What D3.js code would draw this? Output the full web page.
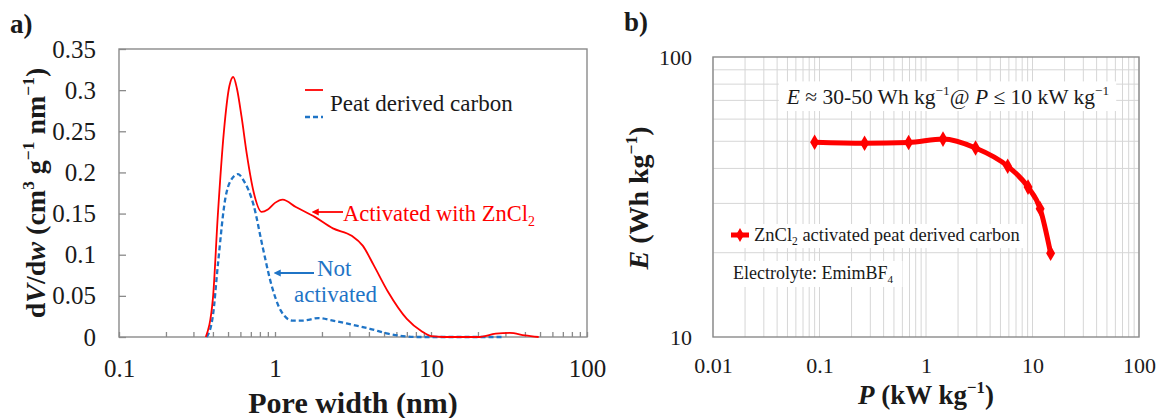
<!DOCTYPE html>
<html>
<head>
<meta charset="utf-8">
<script src="https://cdn.jsdelivr.net/npm/d3@7"></script>
<style>
  body { margin: 0; background: #fff; }
  svg { display: block; }
  svg text { font-family: 'Liberation Serif', 'Times New Roman', Tinos, 'DejaVu Serif', serif !important; }
</style>
</head>
<body>
<svg id="viz"></svg>
<script>
// ---- panel a: pore size distribution ----
const poreRed = [0.36, 0.40, 0.43, 0.47, 0.51, 0.54, 0.57, 0.61, 0.66, 0.73, 0.82, 0.90, 1.0, 1.12, 1.36, 1.8, 2.35, 3.1, 3.65, 4.3, 5.3, 7.0, 8.7, 10, 12, 20, 26, 32, 40, 49];
const dvRed   = [0, 0.047, 0.148, 0.249, 0.305, 0.316, 0.302, 0.268, 0.222, 0.176, 0.152, 0.155, 0.163, 0.167, 0.158, 0.146, 0.132, 0.123, 0.111, 0.087, 0.055, 0.022, 0.007, 0.001, 0, 0, 0.004, 0.005, 0.002, 0];
const poreBlue = [0.365, 0.40, 0.43, 0.48, 0.52, 0.58, 0.63, 0.73, 0.83, 0.95, 1.09, 1.29, 1.52, 1.9, 2.35, 3.1, 4.05, 5.3, 6.6, 8, 29];
const dvBlue   = [0, 0.026, 0.087, 0.168, 0.19, 0.198, 0.19, 0.16, 0.111, 0.063, 0.032, 0.02, 0.02, 0.023, 0.02, 0.015, 0.01, 0.004, 0.001, 0, 0];
const yTicksA = [0, 0.05, 0.1, 0.15, 0.2, 0.25, 0.3, 0.35];
const xMajorA = [0.1, 1, 10, 100];

// ---- panel b: Ragone plot ----
const powerB  = [0.09, 0.265, 0.687, 1.445, 2.92, 5.85, 9.08, 11.8, 14.8];
const energyB = [49.6, 49.2, 49.5, 50.9, 47.3, 40.7, 34.3, 28.7, 19.9];
const xMajorB = [0.01, 0.1, 1, 10, 100];
const yMajorB = [10, 100];

const red = "#ff0000", blue = "#1f74c6", axisGrey = "#8a8a8a", gridGrey = "#d6d6d6", ink = "#1a1a1a";
const serif = "'Liberation Serif', 'Times New Roman', Tinos, 'DejaVu Serif', serif";

const svg = d3.select("#viz").attr("width", 1160).attr("height", 418)
  .attr("font-family", serif);

// write text with italic / super / subscript pieces
function rich(sel, parts) {
  const fs = parseFloat(sel.attr("font-size"));
  let shift = 0;
  parts.forEach(p => {
    const ts = sel.append("tspan").text(p.t);
    let target = p.sup ? -0.4 * fs : p.sub ? 0.22 * fs : 0;
    if (target !== shift) { ts.attr("dy", target - shift); shift = target; }
    if (p.sup || p.sub) ts.attr("font-size", fs * 0.62);
    if (p.i) ts.attr("font-style", "italic");
  });
  return sel;
}

function minorsOf(domain) {
  const out = [];
  for (let d = domain[0]; d < domain[1] * 0.999; d *= 10)
    for (let k = 2; k <= 9; k++) out.push(+(k * d).toPrecision(3));
  return out;
}

// ================= panel a =================
const xA = d3.scaleLog().domain([0.1, 100]).range([119, 587]);
const yA = d3.scaleLinear().domain([0, 0.35]).range([337, 49]);

const gA = svg.append("g");

gA.append("rect")
  .attr("x", xA.range()[0]).attr("y", yA.range()[1])
  .attr("width", xA.range()[1] - xA.range()[0])
  .attr("height", yA.range()[0] - yA.range()[1])
  .attr("fill", "none").attr("stroke", axisGrey).attr("stroke-width", 1.4);

const axLeftA = gA.append("g").attr("transform", `translate(${xA.range()[0]},0)`)
  .call(d3.axisLeft(yA).tickValues(yTicksA).tickSize(-7).tickPadding(23)
    .tickFormat(d => d === 0 ? "0" : String(+d.toFixed(2))));
const axBotA = gA.append("g").attr("transform", `translate(0,${yA.range()[0]})`)
  .call(d3.axisBottom(xA).tickValues(xMajorA).tickSize(-5).tickPadding(22)
    .tickFormat(d => String(d)));
const axMinA = gA.append("g").attr("transform", `translate(0,${yA.range()[0]})`)
  .call(d3.axisBottom(xA).tickValues(minorsOf([0.1, 100])).tickSize(-5).tickFormat(""));
[axLeftA, axBotA, axMinA].forEach(a => {
  a.attr("font-family", serif);
  a.select(".domain").remove();
  a.selectAll("line").attr("stroke", axisGrey).attr("stroke-width", 1.3);
  a.selectAll("text").attr("font-size", 25).attr("fill", ink);
});

const lineA = d3.line().x(d => xA(d[0])).y(d => yA(d[1])).curve(d3.curveMonotoneX);

gA.append("path").datum(d3.zip(poreBlue, dvBlue))
  .attr("d", lineA).attr("fill", "none").attr("stroke", blue)
  .attr("stroke-width", 2.3).attr("stroke-dasharray", "5,3");
gA.append("path").datum(d3.zip(poreRed, dvRed))
  .attr("d", lineA).attr("fill", "none").attr("stroke", red).attr("stroke-width", 1.8);

// legend
gA.append("line").attr("x1", 305).attr("x2", 323).attr("y1", 90).attr("y2", 90)
  .attr("stroke", red).attr("stroke-width", 1.8);
gA.append("line").attr("x1", 305).attr("x2", 323).attr("y1", 117).attr("y2", 117)
  .attr("stroke", blue).attr("stroke-width", 2.3).attr("stroke-dasharray", "5,3");
gA.append("text").attr("x", 330).attr("y", 111).attr("font-size", 23).attr("fill", ink)
  .text("Peat derived carbon");

// arrows
const defs = svg.append("defs");
[["headRed", red], ["headBlue", blue]].forEach(([id, c]) => {
  defs.append("marker").attr("id", id).attr("viewBox", "0 0 10 10")
    .attr("refX", 1).attr("refY", 5).attr("markerWidth", 4).attr("markerHeight", 4)
    .attr("orient", "auto-start-reverse")
    .append("path").attr("d", "M0,0L10,5L0,10z").attr("fill", c);
});
gA.append("line").attr("x1", 343).attr("x2", 318).attr("y1", 212).attr("y2", 212)
  .attr("stroke", red).attr("stroke-width", 1.8).attr("marker-end", "url(#headRed)");
rich(gA.append("text").attr("x", 343).attr("y", 221).attr("font-size", 22.5).attr("fill", red),
  [{ t: "Activated with ZnCl" }, { t: "2", sub: true }]);

gA.append("line").attr("x1", 314).attr("x2", 280).attr("y1", 273).attr("y2", 273)
  .attr("stroke", blue).attr("stroke-width", 1.8).attr("marker-end", "url(#headBlue)");
gA.append("text").attr("x", 317).attr("y", 276).attr("font-size", 23).attr("fill", blue).text("Not");
gA.append("text").attr("x", 294).attr("y", 302).attr("font-size", 23).attr("fill", blue).text("activated");

// titles
gA.append("text").attr("x", 10).attr("y", 33).attr("font-size", 27).attr("font-weight", "bold")
  .attr("fill", ink).text("a)");
gA.append("text").attr("x", 353).attr("y", 413).attr("text-anchor", "middle")
  .attr("font-size", 30).attr("font-weight", "bold").attr("fill", ink).text("Pore width (nm)");
rich(gA.append("text").attr("transform", "translate(45,193) rotate(-90)")
  .attr("text-anchor", "middle").attr("font-size", 28).attr("font-weight", "bold").attr("fill", ink),
  [{ t: "d" }, { t: "V", i: true }, { t: "/d" }, { t: "w", i: true }, { t: " (cm" }, { t: "3", sup: true },
   { t: " g" }, { t: "\u22121", sup: true }, { t: " nm" }, { t: "\u22121", sup: true }, { t: ")" }]);

// ================= panel b =================
const xB = d3.scaleLog().domain([0.01, 100]).range([713, 1139]);
const yB = d3.scaleLog().domain([10, 100]).range([337, 57]);

const gB = svg.append("g");

// grid
gB.append("g").selectAll("line").data(minorsOf([0.01, 100]).concat(xMajorB)).join("line")
  .attr("x1", d => xB(d)).attr("x2", d => xB(d))
  .attr("y1", yB.range()[0]).attr("y2", yB.range()[1])
  .attr("stroke", gridGrey).attr("stroke-width", 1);
gB.append("g").selectAll("line").data(minorsOf([10, 100])).join("line")
  .attr("x1", xB.range()[0]).attr("x2", xB.range()[1])
  .attr("y1", d => yB(d)).attr("y2", d => yB(d))
  .attr("stroke", gridGrey).attr("stroke-width", 1);

gB.append("rect")
  .attr("x", xB.range()[0]).attr("y", yB.range()[1])
  .attr("width", xB.range()[1] - xB.range()[0])
  .attr("height", yB.range()[0] - yB.range()[1])
  .attr("fill", "none").attr("stroke", axisGrey).attr("stroke-width", 1.4);

const axLeftB = gB.append("g").attr("transform", `translate(${xB.range()[0]},0)`)
  .call(d3.axisLeft(yB).tickValues(yMajorB).tickSize(0).tickPadding(21).tickFormat(d => String(d)));
const axBotB = gB.append("g").attr("transform", `translate(0,${yB.range()[0]})`)
  .call(d3.axisBottom(xB).tickValues(xMajorB).tickSize(0).tickPadding(20).tickFormat(d => String(d)));
[axLeftB, axBotB].forEach(a => {
  a.attr("font-family", serif);
  a.select(".domain").remove();
  a.selectAll("text").attr("font-size", 22).attr("fill", ink);
});

// text boxes with white backing
function boxedText(g, padX, padY) {
  const bb = g.node().getBBox();
  g.insert("rect", ":first-child")
    .attr("x", bb.x - padX).attr("y", bb.y - padY)
    .attr("width", bb.width + 2 * padX).attr("height", bb.height + 2 * padY)
    .attr("fill", "#fff");
}

const noteB = gB.append("g");
rich(noteB.append("text").attr("x", 948).attr("y", 104).attr("text-anchor", "middle")
  .attr("font-size", 21.5).attr("fill", ink),
  [{ t: "E", i: true }, { t: " \u2248 30-50 Wh kg" }, { t: "\u22121", sup: true }, { t: "@ " },
   { t: "P", i: true }, { t: " \u2264 10 kW kg" }, { t: "\u22121", sup: true }]);
boxedText(noteB, 7, 2);

const legB = gB.append("g");
rich(legB.append("text").attr("x", 754).attr("y", 241).attr("font-size", 18.5).attr("fill", ink),
  [{ t: "ZnCl" }, { t: "2", sub: true }, { t: " activated peat derived carbon" }]);
legB.append("line").attr("x1", 731).attr("x2", 749).attr("y1", 235).attr("y2", 235)
  .attr("stroke", red).attr("stroke-width", 5);
legB.append("path").attr("d", d3.symbol(d3.symbolDiamond, 55)())
  .attr("transform", "translate(740,235)").attr("fill", red);
boxedText(legB, 5, 1);

const elecB = gB.append("g");
rich(elecB.append("text").attr("x", 733).attr("y", 279).attr("font-size", 18).attr("fill", ink),
  [{ t: "Electrolyte: EmimBF" }, { t: "4", sub: true }]);
boxedText(elecB, 9, 2);

const lineB = d3.line().x(d => xB(d[0])).y(d => yB(d[1])).curve(d3.curveMonotoneX);
const ptsB = d3.zip(powerB, energyB);
gB.append("path").datum(ptsB).attr("d", lineB).attr("fill", "none")
  .attr("stroke", red).attr("stroke-width", 5).attr("stroke-linejoin", "round");
gB.append("g").selectAll("path").data(ptsB).join("path")
  .attr("d", d3.symbol(d3.symbolDiamond, 70)())
  .attr("transform", d => `translate(${xB(d[0])},${yB(d[1])})`)
  .attr("fill", red);

// titles
gB.append("text").attr("x", 624).attr("y", 31).attr("font-size", 27).attr("font-weight", "bold")
  .attr("fill", ink).text("b)");
rich(gB.append("text").attr("x", 926).attr("y", 404).attr("text-anchor", "middle")
  .attr("font-size", 27).attr("font-weight", "bold").attr("fill", ink),
  [{ t: "P", i: true }, { t: " (kW kg" }, { t: "\u22121", sup: true }, { t: ")" }]);
rich(gB.append("text").attr("transform", "translate(648,198) rotate(-90)")
  .attr("text-anchor", "middle").attr("font-size", 28).attr("font-weight", "bold").attr("fill", ink),
  [{ t: "E", i: true }, { t: " (Wh kg" }, { t: "\u22121", sup: true }, { t: ")" }]);
</script>
</body>
</html>
